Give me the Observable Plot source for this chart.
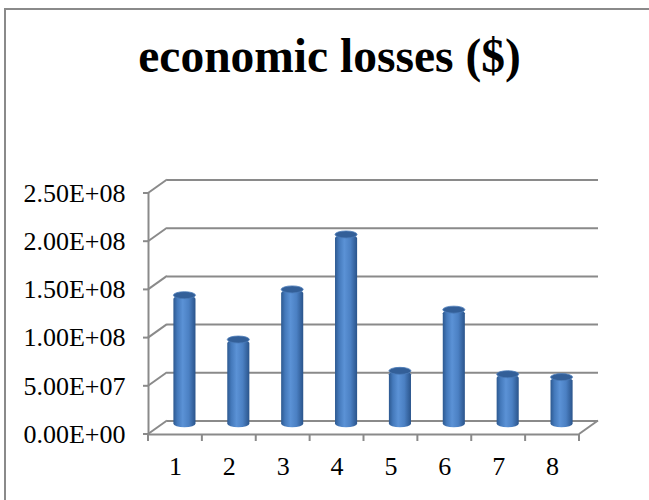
<!DOCTYPE html>
<html>
<head>
<meta charset="utf-8">
<script src="https://cdn.jsdelivr.net/npm/d3@7"></script>
<script src="https://cdn.jsdelivr.net/npm/@observablehq/plot@0.6"></script>
<style>
  html, body { margin: 0; padding: 0; background: #fff; overflow: hidden; }
  #wrap { position: relative; width: 649px; height: 500px; overflow: hidden; background: #fff; }
  #border { position: absolute; left: 4px; top: 8px; width: 720px; height: 620px; border: 2px solid #8a8a8a; box-sizing: border-box; pointer-events: none; }
  #title { position: relative; height: 120px; box-sizing: border-box; padding-top: 33px; padding-left: 10px; text-align: center;
           font: bold 47.5px/47.5px "Liberation Serif", "Times New Roman", serif; color: #000; }
  #chart svg { display: block; }
</style>
</head>
<body>
<div id="wrap">
  <div id="border"></div>
  <div id="title">economic losses ($)</div>
  <div id="chart"></div>
</div>
<script>
// ---- data ----
const categories = [1, 2, 3, 4, 5, 6, 7, 8];
const losses = [1.37e8, 9.1e7, 1.43e8, 2.0e8, 5.85e7, 1.22e8, 5.5e7, 5.2e7];
const yTicks = [0, 5e7, 1e8, 1.5e8, 2e8, 2.5e8];
const yTickLabels = ["0.00E+00", "5.00E+07", "1.00E+08", "1.50E+08", "2.00E+08", "2.50E+08"];
const xLabels = ["1", "2", "3", "4", "5", "6", "7", "8"];

const data = categories.map((c, i) => ({cat: c, value: losses[i], label: xLabels[i]}));
const bounds = [0.5, ...categories.map(c => c + 0.5)];

// ---- style ----
const GRID = "#8a8a8a";
const DX = 19, DY = -13.5;      // depth of the 3-D box in px
const HALF = 0.205;             // half bar width in category units

const depthFrame = (index, {x, y}) => {
  const g = d3.create("svg:g");
  const defs = g.append("defs");
  const lg = defs.append("linearGradient").attr("id", "cyl").attr("x1", "0").attr("x2", "1").attr("y1", "0").attr("y2", "0");
  [["0%", "#2d5990"], ["18%", "#4479bb"], ["42%", "#5b92d6"], ["70%", "#4b80c3"], ["100%", "#2a548b"]]
    .forEach(([o, c]) => lg.append("stop").attr("offset", o).attr("stop-color", c));
  const lines = g.append("g").attr("stroke", GRID).attr("stroke-width", 2).attr("fill", "none");
  const left = x(bounds[0]), right = x(bounds[bounds.length - 1]);
  // diagonals from the front axis to the back wall
  yTicks.forEach(v => lines.append("line").attr("x1", left).attr("y1", y(v)).attr("x2", left + DX).attr("y2", y(v) + DY));
  lines.append("line").attr("x1", right).attr("y1", y(0)).attr("x2", right + DX).attr("y2", y(0) + DY);
  // y tick marks
  yTicks.forEach(v => lines.append("line").attr("x1", left - 5).attr("y1", y(v)).attr("x2", left).attr("y2", y(v)));
  // x tick marks (category boundaries)
  bounds.forEach(b => lines.append("line").attr("x1", x(b)).attr("y1", y(0)).attr("x2", x(b)).attr("y2", y(0) + 7));
  return g.node();
};

const caps = (index, {x, y}) => {
  const g = d3.create("svg:g");
  data.forEach(d => {
    const cx = x(d.cat) + DX / 2, cy = y(d.value) + DY / 2;
    const rx = (x(d.cat + HALF) - x(d.cat - HALF)) / 2;
    g.append("ellipse").attr("cx", cx).attr("cy", cy).attr("rx", rx).attr("ry", 3.5)
      .attr("fill", "#335f98").attr("stroke", "#4a7bb9").attr("stroke-width", 0.8);
  });
  return g.node();
};

const chart = Plot.plot({
  width: 649,
  height: 380,
  marginLeft: 148,
  marginRight: 70,
  marginTop: 73,
  marginBottom: 66,
  x: {domain: [bounds[0], bounds[bounds.length - 1]], axis: null},
  y: {domain: [0, 2.5e8], ticks: yTicks, tickFormat: v => yTickLabels[yTicks.indexOf(v)], tickSize: 0, tickPadding: 23, label: null},
  style: {fontFamily: "'Liberation Serif', 'Times New Roman', serif", fontSize: "26px", color: "#000", background: "transparent", overflow: "visible"},
  marks: [
    Plot.ruleY(yTicks, {dx: DX, dy: DY, stroke: GRID, strokeWidth: 2}),
    Plot.ruleY([0], {stroke: GRID, strokeWidth: 2}),
    Plot.ruleX([bounds[0]], {stroke: GRID, strokeWidth: 2}),
    depthFrame,
    Plot.rectY(data, {x1: d => d.cat - HALF, x2: d => d.cat + HALF, y: "value", dx: DX / 2, dy: DY / 2, rx: 11, ry: 3.5, fill: "url(#cyl)"}),
    caps,
    Plot.text(data, {x: "cat", y: () => 0, text: "label", dy: 32, fontSize: 26, fill: "#000"})
  ]
});
document.getElementById("chart").appendChild(chart);
</script>
</body>
</html>
